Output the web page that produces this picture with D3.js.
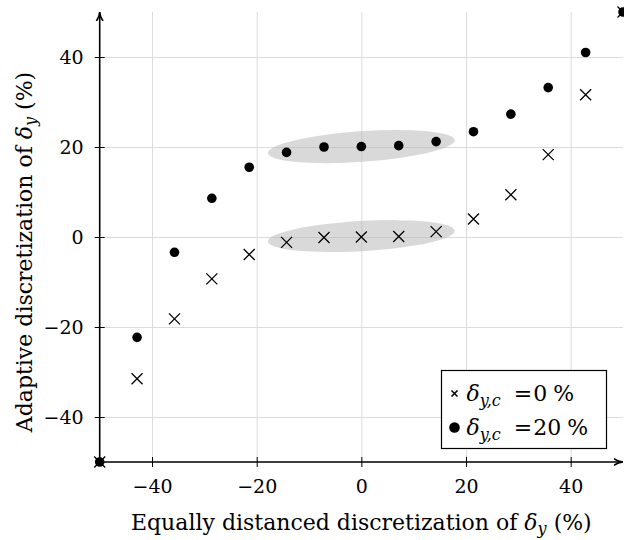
<!DOCTYPE html>
<html>
<head>
<meta charset="utf-8">
<script src="https://cdn.jsdelivr.net/npm/d3@7"></script>
<style>
  body { margin: 0; background: #fff; }
</style>
</head>
<body>
<div id="chart"></div>
<script>
// equally distanced grid (x) and the adaptive values (y)
const xValues = [-50, -42.86, -35.71, -28.57, -21.43, -14.29, -7.14, 0, 7.14, 14.29, 21.43, 28.57, 35.71, 42.86, 50];
const cross0 = [-50, -31.5, -18.2, -9.3, -3.9, -1.2, -0.1, 0, 0.1, 1.2, 4.0, 9.4, 18.3, 31.6, 50];
const dots20 = [-50, -22.3, -3.4, 8.6, 15.5, 18.8, 20.0, 20.1, 20.3, 21.2, 23.4, 27.3, 33.2, 41.0, 50];

const xTicks = [-40, -20, 0, 20, 40];
const yTicks = [-40, -20, 0, 20, 40];

// highlighted groups (centre in data units, half widths in data units)
const groups = [
    { cx: 0, cy: 20.1, rx: 17.9, ry: 3.4, angle: -4 },
    { cx: 0, cy: 0.2, rx: 17.9, ry: 3.35, angle: -3.3 }
];

const legendItems = [
    { kind: "cross", value: "0" },
    { kind: "dot", value: "20" }
];

const FONT = "DejaVu Serif";

function render(selector) {
    const width = 624, height = 540;
    const left = 99.7, right = 623, top = 12, bottom = 462;

    const svg = d3.select(selector).append("svg")
        .attr("width", width)
        .attr("height", height);

    const x = d3.scaleLinear().domain([-50, 50]).range([left, right]);
    const y = d3.scaleLinear().domain([-50, 50]).range([bottom, top]);

    // grid
    svg.append("g")
        .attr("transform", `translate(0,${bottom})`)
        .call(d3.axisBottom(x).tickValues(xTicks).tickSize(-(bottom - top)).tickFormat(""))
        .call(g => g.select(".domain").remove())
        .call(g => g.selectAll("line").attr("stroke", "#dcdcdc").attr("stroke-width", 1));
    svg.append("g")
        .attr("transform", `translate(${left},0)`)
        .call(d3.axisLeft(y).tickValues(yTicks).tickSize(-(right - left)).tickFormat(""))
        .call(g => g.select(".domain").remove())
        .call(g => g.selectAll("line").attr("stroke", "#dcdcdc").attr("stroke-width", 1));

    // grey ellipses
    svg.append("g")
        .selectAll("ellipse")
        .data(groups).enter()
        .append("ellipse")
            .attr("transform", function(d) { return `translate(${x(d.cx)},${y(d.cy)}) rotate(${d.angle})`; })
            .attr("rx", function(d) { return x(d.rx) - x(0); })
            .attr("ry", function(d) { return y(0) - y(d.ry); })
            .style("fill", "#b4b4b4")
            .style("fill-opacity", 0.5);

    // axes with ticks crossing the line
    const xAxis = svg.append("g")
        .attr("transform", `translate(0,${bottom})`)
        .call(d3.axisBottom(x).tickValues(xTicks).tickSize(5).tickPadding(8));
    xAxis.attr("font-family", FONT);
    xAxis.select(".domain").remove();
    xAxis.selectAll(".tick line").attr("y1", -5).attr("stroke", "#000");
    xAxis.selectAll(".tick text")
        .style("font-size", "19px")
        .attr("dy", "0.95em");

    const yAxis = svg.append("g")
        .attr("transform", `translate(${left},0)`)
        .call(d3.axisLeft(y).tickValues(yTicks).tickSize(5).tickPadding(11));
    yAxis.attr("font-family", FONT);
    yAxis.select(".domain").remove();
    yAxis.selectAll(".tick line").attr("x1", 5).attr("stroke", "#000");
    yAxis.selectAll(".tick text")
        .style("font-size", "19px")
        .attr("dy", "0.36em");

    const defs = svg.append("defs");
    defs.append("marker")
        .attr("id", "arrow")
        .attr("viewBox", "0 0 10 10")
        .attr("refX", 9).attr("refY", 5)
        .attr("markerWidth", 6).attr("markerHeight", 6)
        .attr("orient", "auto")
        .append("path")
            .attr("d", "M0,1.5 Q5,5 10,5 Q5,5 0,8.5")
            .attr("fill", "none")
            .attr("stroke", "#000")
            .attr("stroke-width", 1.6);

    svg.append("line")
        .attr("x1", x(-50)).attr("y1", y(-50))
        .attr("x2", x(50) - 0.5).attr("y2", y(-50))
        .attr("stroke", "#000").attr("stroke-width", 1.6)
        .attr("marker-end", "url(#arrow)");
    svg.append("line")
        .attr("x1", x(-50)).attr("y1", y(-50))
        .attr("x2", x(-50)).attr("y2", y(50) + 0.5)
        .attr("stroke", "#000").attr("stroke-width", 1.6)
        .attr("marker-end", "url(#arrow)");

    const cross = "M-5.5,-5.5L5.5,5.5M-5.5,5.5L5.5,-5.5";

    svg.append("g")
        .selectAll("path")
        .data(xValues.map(function(v, i) { return [v, cross0[i]]; })).enter()
        .append("path")
            .attr("transform", function(d) { return `translate(${x(d[0])},${y(d[1])})`; })
            .attr("d", cross)
            .attr("stroke", "#000")
            .attr("stroke-width", 1.3)
            .attr("fill", "none");

    svg.append("g")
        .selectAll("circle")
        .data(xValues.map(function(v, i) { return [v, dots20[i]]; })).enter()
        .append("circle")
            .attr("cx", function(d) { return x(d[0]); })
            .attr("cy", function(d) { return y(d[1]); })
            .attr("r", 4.8)
            .style("fill", "#000");

    // axis labels
    const xl = svg.append("text")
        .attr("x", x(0))
        .attr("y", 530)
        .attr("text-anchor", "middle")
        .attr("font-family", FONT)
        .style("font-size", "22px");
    xl.append("tspan").text("Equally distanced discretization of ");
    xl.append("tspan").style("font-style", "italic").text("δ");
    xl.append("tspan").style("font-style", "italic").style("font-size", "16px").attr("dy", 4).text("y");
    xl.append("tspan").attr("dy", -4).text(" (%)");

    const yl = svg.append("text")
        .attr("transform", "translate(32,252) rotate(-90)")
        .attr("text-anchor", "middle")
        .attr("font-family", FONT)
        .style("font-size", "22px");
    yl.append("tspan").text("Adaptive discretization of ");
    yl.append("tspan").style("font-style", "italic").text("δ");
    yl.append("tspan").style("font-style", "italic").style("font-size", "16px").attr("dy", 4).text("y");
    yl.append("tspan").attr("dy", -4).text(" (%)");

    // legend
    const legend = svg.append("g").attr("transform", "translate(441.5,370.5)");
    legend.append("rect")
        .attr("width", 165)
        .attr("height", 78)
        .attr("fill", "#fff")
        .attr("stroke", "#000")
        .attr("stroke-width", 1.2);

    const rows = legend.selectAll("g.row")
        .data(legendItems).enter()
        .append("g")
            .attr("class", "row")
            .attr("transform", function(d, i) { return `translate(0,${23 + i * 34})`; });

    rows.filter(function(d) { return d.kind === "cross"; })
        .append("path")
            .attr("transform", "translate(13,0)")
            .attr("d", "M-3,-3L3,3M-3,3L3,-3")
            .attr("stroke", "#000")
            .attr("stroke-width", 1.6);
    rows.filter(function(d) { return d.kind === "dot"; })
        .append("circle")
            .attr("cx", 13)
            .attr("r", 5.3)
            .style("fill", "#000");

    const lt = rows.append("text")
        .attr("x", 25)
        .attr("y", 7)
        .attr("font-family", FONT)
        .style("font-size", "22px");
    lt.append("tspan").style("font-style", "italic").text("δ");
    lt.append("tspan").style("font-style", "italic").style("font-size", "16px").attr("dy", 5).text("y,c");
    lt.append("tspan").attr("dy", -5).attr("dx", 13).text("=");
    lt.append("tspan").attr("dx", 1).text(function(d) { return d.value; });
    lt.append("tspan").attr("dx", 6).text("%");
}

render("#chart");
</script>
</body>
</html>
